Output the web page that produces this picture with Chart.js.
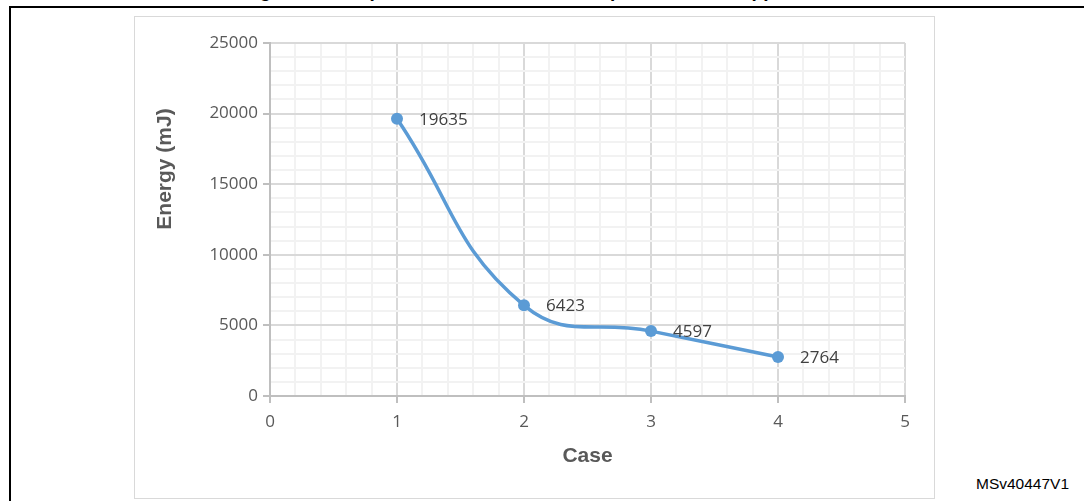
<!DOCTYPE html>
<html>
<head>
<meta charset="utf-8">
<script src="https://cdn.jsdelivr.net/npm/chart.js@4"></script>
<style>
  body { margin: 0; width: 1084px; height: 501px; overflow: hidden; background: #fff; position: relative; }
  #title { position: absolute; left: 0; top: -20px; width: 1084px; text-align: center;
           font: bold 19px/22px "Liberation Sans", Arial, sans-serif; color: #000; white-space: nowrap; }
  #frame { position: absolute; left: 9px; top: 6px; width: 1200px; height: 600px;
           border-top: 2px solid #000; border-left: 2px solid #000; }
  #box { position: absolute; left: 134px; top: 16px; width: 799px; height: 481px;
         border: 1px solid #D9D9D9; background: #fff; }
  #ref { position: absolute; left: 976px; top: 475px;
         font: 15.5px/18px "Liberation Sans", Arial, sans-serif; color: #000; }
</style>
</head>
<body>
<div id="title">Figure 5. Comparison of current consumption for each application</div>
<div id="frame"></div>
<div id="box"><canvas id="energyChart"></canvas></div>
<div id="ref">MSv40447V1</div>

<script>
  // values
  const cases = [1, 2, 3, 4];
  const energy = [19635, 6423, 4597, 2764];
  const xTicks = [0, 1, 2, 3, 4, 5];
  const yTicks = [0, 5000, 10000, 15000, 20000, 25000];

  const isMajorX = v => Math.abs(v - Math.round(v)) < 1e-6;
  const isMajorY = v => v % 5000 === 0;

  // data labels to the right of each point
  const pointLabels = {
    id: 'pointLabels',
    afterDatasetsDraw(chart) {
      const ctx = chart.ctx;
      const meta = chart.getDatasetMeta(0);
      ctx.save();
      ctx.font = '17px "Open Sans", sans-serif';
      ctx.fillStyle = '#404040';
      ctx.textAlign = 'left';
      ctx.textBaseline = 'middle';
      meta.data.forEach((pt, i) => {
        ctx.fillText(String(energy[i]), pt.x + 22, pt.y + 1);
      });
      ctx.restore();
    }
  };

  // y axis title sits above the middle of the axis, so draw it by hand
  const yTitle = {
    id: 'yTitle',
    afterDraw(chart) {
      const ctx = chart.ctx;
      ctx.save();
      ctx.translate(30, 152);
      ctx.rotate(-Math.PI / 2);
      ctx.font = 'bold 21px "Liberation Sans", Arial, sans-serif';
      ctx.fillStyle = '#595959';
      ctx.textAlign = 'center';
      ctx.textBaseline = 'middle';
      ctx.fillText('Energy (mJ)', 0, 0);
      ctx.restore();
    }
  };

  const energyCtx = document.getElementById('energyChart').getContext('2d');
  new Chart(energyCtx, {
    type: 'line',
    data: {
      datasets: [{
        data: cases.map((c, i) => ({ x: c, y: energy[i] })),
        borderColor: '#5B9BD5',
        backgroundColor: '#5B9BD5',
        borderWidth: 3.5,
        tension: 0.45,
        pointRadius: 6,
        pointBorderWidth: 0,
        pointBackgroundColor: '#5B9BD5',
        fill: false
      }]
    },
    options: {
      responsive: true,
      maintainAspectRatio: false,
      animation: false,
      layout: { padding: { top: 26, right: 29, bottom: 0, left: 0 } },
      plugins: { legend: { display: false }, tooltip: { enabled: false } },
      scales: {
        x: {
          type: 'linear',
          min: xTicks[0],
          max: xTicks[xTicks.length - 1],
          afterFit(scale) { scale.height = 102; },
          ticks: {
            stepSize: 0.2,
            autoSkip: false,
            maxRotation: 0,
            padding: 9,
            color: '#595959',
            font: { family: '"Open Sans", sans-serif', size: 17 },
            callback: v => isMajorX(v) && xTicks.includes(Math.round(v)) ? String(Math.round(v)) : ''
          },
          grid: {
            color: c => isMajorX(c.tick.value) ? '#D9D9D9' : '#F2F2F2',
            lineWidth: 2,
            tickLength: 7,
            tickColor: c => isMajorX(c.tick.value) ? '#BFBFBF' : 'rgba(0,0,0,0)'
          },
          border: { color: '#BFBFBF', width: 2 },
          title: {
            display: true,
            text: 'Case',
            color: '#595959',
            font: { family: '"Liberation Sans", Arial, sans-serif', size: 21, weight: 'bold' },
            padding: { top: 0, bottom: 29 }
          }
        },
        y: {
          min: yTicks[0],
          max: yTicks[yTicks.length - 1],
          afterFit(scale) { scale.width = 135; },
          ticks: {
            stepSize: 1000,
            autoSkip: false,
            padding: 5,
            color: '#595959',
            font: { family: '"Open Sans", sans-serif', size: 17 },
            callback: v => yTicks.includes(v) ? String(v) : ''
          },
          grid: {
            color: c => isMajorY(c.tick.value) ? '#D9D9D9' : '#F2F2F2',
            lineWidth: 2,
            tickLength: 7,
            tickColor: c => isMajorY(c.tick.value) ? '#BFBFBF' : 'rgba(0,0,0,0)'
          },
          border: { color: '#BFBFBF', width: 2 }
        }
      }
    },
    plugins: [pointLabels, yTitle]
  });
</script>
</body>
</html>
